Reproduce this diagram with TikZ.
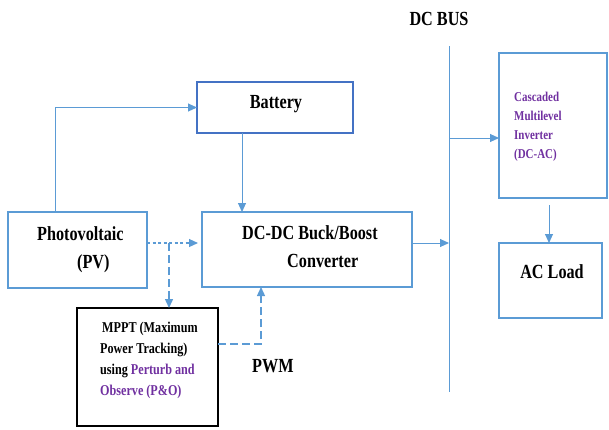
\documentclass[tikz,border=0pt]{standalone}
\usepackage{fontspec}
\newfontfamily\tnr[FakeStretch=0.81]{Liberation Serif}
\usetikzlibrary{arrows.meta,calc}
\definecolor{boxblue}{HTML}{5B9BD5}
\definecolor{batblue}{HTML}{4472C4}
\definecolor{purp}{HTML}{7030A0}
\begin{document}
\begin{tikzpicture}[x=1pt,y=-1pt,
  blk/.style={draw=boxblue, line width=1.8pt, inner sep=0pt, outer sep=0pt, anchor=center},
  txt/.style={font=\tnr\bfseries\fontsize{20}{28}\selectfont, inner sep=0pt, align=left},
  conn/.style={draw=boxblue, line width=1pt, -{Triangle[length=9pt,width=8pt]}},
  dconn/.style={conn, line width=1.4pt, dash pattern=on 8pt off 4pt},
  sdconn/.style={conn, line width=1.1pt, dash pattern=on 3pt off 2.5pt}]
\useasboundingbox (0,0) rectangle (609,429);

% boxes
\node[blk, draw=batblue, minimum width=156pt, minimum height=51pt] (bat) at (275,107.5) {};
\node[blk, minimum width=139pt, minimum height=76pt] (pv) at (77.5,250) {};
\node[blk, minimum width=210pt, minimum height=75pt] (dc) at (307,249.5) {};
\node[blk, draw=black, minimum width=141pt, minimum height=118pt] (mppt) at (147.5,367) {};
\node[blk, minimum width=108pt, minimum height=145pt] (inv) at (553,125.5) {};
\node[blk, minimum width=103pt, minimum height=75pt] (ac) at (550.5,280.5) {};

% DC bus
\coordinate (busT) at (449,46);
\coordinate (busB) at (449,392);
\draw[boxblue, line width=1pt] (busT) -- (busB);

% texts (base anchor = baseline of last line)
\node[txt, anchor=base] (tbus) at (439,25) {DC BUS};
\node[txt, anchor=base] (tbat) at (276,108) {Battery};
\node[txt, anchor=base west] (tpv) at (37,268) {Photovoltaic\\\hspace*{40pt}(PV)};
\node[txt, anchor=base west] (tdc) at (242,267) {DC-DC Buck/Boost\\\hspace*{45pt}Converter};
\node[txt, anchor=base west, font=\tnr\bfseries\fontsize{15}{20.7}\selectfont] (tmppt) at (100,395)
  {\hspace*{2pt}MPPT (Maximum\\Power Tracking)\\using \textcolor{purp}{Perturb and}\\\textcolor{purp}{Observe (P\&O)}};
\node[txt, anchor=base west, text=purp, font=\tnr\bfseries\fontsize{13.5}{18.7}\selectfont] (tinv) at (514,158)
  {Cascaded\\Multilevel\\Inverter\\(DC-AC)};
\node[txt, anchor=base] (tac) at (552,278) {AC Load};
\node[txt, anchor=base west] (tpwm) at (252,372) {PWM};

% connectors
\draw[conn] ($(pv.north)+(-22.5,0)$) |- (bat.west);
\coordinate (batout) at ($(bat.south)+(-33,0)$);
\draw[conn] (batout) -- (batout |- dc.north);
\coordinate (pvout) at ($(pv.east)+(0,-7)$);
\coordinate (dcpvin) at ($(pvout -| dc.west)+(-4,0)$);
\draw[sdconn] (pvout) -- (dcpvin);
\coordinate (jn) at ($(pvout)+(22,0)$);
\draw[dconn] (jn) -- (jn |- mppt.north);
\coordinate (mout) at ($(mppt.east)+(0,-23)$);
\coordinate (dcin) at ($(dc.south)+(-46,0)$);
\draw[dconn] (mout) -| (dcin);
\coordinate (dcout) at ($(dc.east)+(0,-6.5)$);
\draw[conn] (dcout) -- (dcout -| busT);
\coordinate (invin) at ($(inv.west)+(0,12.5)$);
\draw[conn] (invin -| busT) -- (invin);
\coordinate (invout) at ($(inv.south)+(-4,7)$);
\draw[conn] (invout) -- (invout |- ac.north);
\end{tikzpicture}
\end{document}
